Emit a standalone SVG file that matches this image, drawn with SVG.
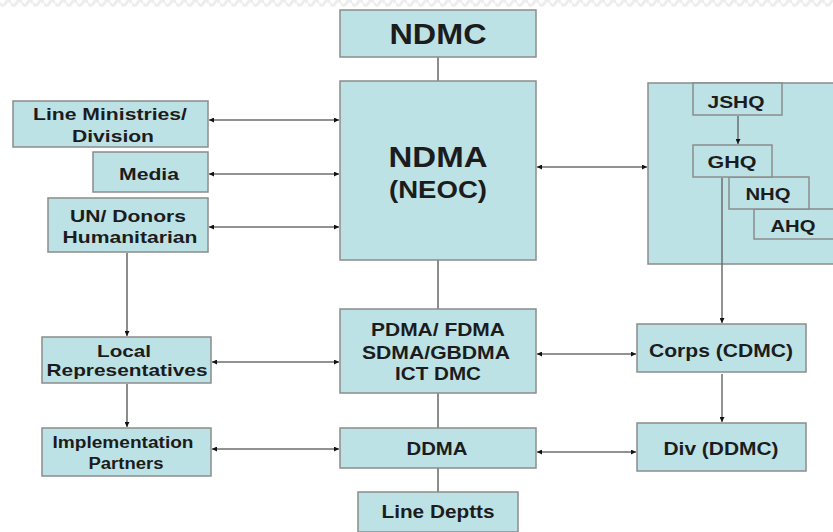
<svg xmlns="http://www.w3.org/2000/svg" width="833" height="532" viewBox="0 0 833 532">
<style>
.box{fill:#bde2e5;stroke:#8c8c8c;stroke-width:1.5}
.t{font-family:"Liberation Sans",Arial,sans-serif;font-weight:bold;fill:#1c1c1c;text-anchor:middle}
.c{stroke:#6e6e6e;stroke-width:1.5;fill:none}
.cv{stroke:#8c8c8c;stroke-width:2;fill:none}
</style>
<defs>
<marker id="ah" viewBox="0 0 10 10" refX="10" refY="5" markerWidth="5" markerHeight="5" orient="auto-start-reverse" markerUnits="userSpaceOnUse">
<path d="M0,0 L10,5 L0,10 z" fill="#111"/>
</marker>
<pattern id="wave" width="11" height="9" patternUnits="userSpaceOnUse">
<path d="M0,3 Q2.75,8 5.5,3 T11,3" stroke="#ededed" stroke-width="3" fill="none"/>
</pattern>
</defs>
<rect x="0" y="0" width="833" height="532" fill="#fff"/>
<rect x="0" y="0" width="833" height="9" fill="url(#wave)"/>

<g id="military"><rect class="box" x="648" y="83" width="195" height="181"/></g>
<g id="jshq"><rect class="box" x="693" y="83" width="89" height="32"/>
<text class="t" x="736" y="108" font-size="16" textLength="57" lengthAdjust="spacingAndGlyphs">JSHQ</text></g>
<g id="ahq"><rect class="box" x="754" y="209" width="82" height="30"/>
<text class="t" x="793" y="232" font-size="16" textLength="45" lengthAdjust="spacingAndGlyphs">AHQ</text></g>
<g id="nhq"><rect class="box" x="729" y="177" width="80" height="32"/>
<text class="t" x="768" y="200" font-size="16" textLength="45" lengthAdjust="spacingAndGlyphs">NHQ</text></g>
<g id="ghq"><rect class="box" x="693" y="145" width="79" height="32"/>
<text class="t" x="732" y="168" font-size="16" textLength="49" lengthAdjust="spacingAndGlyphs">GHQ</text></g>

<g id="connectors">
<line class="cv" x1="438" y1="57" x2="438" y2="81"/>
<line class="cv" x1="438" y1="260" x2="438" y2="309"/>
<line class="cv" x1="438" y1="393" x2="438" y2="428"/>
<line class="cv" x1="438" y1="468" x2="438" y2="492"/>
<line class="c" x1="209" y1="120" x2="339" y2="120" marker-start="url(#ah)" marker-end="url(#ah)"/>
<line class="c" x1="209" y1="174" x2="339" y2="174" marker-start="url(#ah)" marker-end="url(#ah)"/>
<line class="c" x1="209" y1="227" x2="339" y2="227" marker-start="url(#ah)" marker-end="url(#ah)"/>
<line class="c" x1="212" y1="362" x2="339" y2="362" marker-start="url(#ah)" marker-end="url(#ah)"/>
<line class="c" x1="212" y1="449" x2="339" y2="449" marker-start="url(#ah)" marker-end="url(#ah)"/>
<line class="c" x1="537" y1="167" x2="647" y2="167" marker-start="url(#ah)" marker-end="url(#ah)"/>
<line class="c" x1="537" y1="354" x2="636" y2="354" marker-start="url(#ah)" marker-end="url(#ah)"/>
<line class="c" x1="537" y1="452" x2="636" y2="452" marker-start="url(#ah)" marker-end="url(#ah)"/>
<line class="cv" x1="127" y1="253" x2="127" y2="336" marker-end="url(#ah)"/>
<line class="cv" x1="127" y1="384" x2="127" y2="427" marker-end="url(#ah)"/>
<line class="c" x1="738" y1="116" x2="738" y2="144" marker-end="url(#ah)"/>
<line class="c" x1="722" y1="178" x2="722" y2="323" marker-end="url(#ah)"/>
<line class="c" x1="722" y1="374" x2="722" y2="422" marker-end="url(#ah)"/>
</g>

<g id="ndmc"><rect class="box" x="340" y="10" width="196" height="47"/>
<text class="t" x="438" y="44" font-size="29" textLength="97" lengthAdjust="spacingAndGlyphs">NDMC</text></g>

<g id="ndma"><rect class="box" x="340" y="81" width="196" height="179"/>
<text class="t" x="438" y="167" font-size="30" textLength="99" lengthAdjust="spacingAndGlyphs">NDMA</text>
<text class="t" x="438" y="198" font-size="23" textLength="98" lengthAdjust="spacingAndGlyphs">(NEOC)</text></g>

<g id="line-ministries"><rect class="box" x="13" y="101" width="195" height="46"/>
<text class="t" x="110" y="120" font-size="17" textLength="154" lengthAdjust="spacingAndGlyphs">Line Ministries/</text>
<text class="t" x="113" y="142" font-size="17" textLength="82" lengthAdjust="spacingAndGlyphs">Division</text></g>

<g id="media"><rect class="box" x="93" y="152" width="115" height="40"/>
<text class="t" x="149" y="180" font-size="17" textLength="60" lengthAdjust="spacingAndGlyphs">Media</text></g>

<g id="un-donors"><rect class="box" x="48" y="198" width="160" height="54"/>
<text class="t" x="128" y="222" font-size="17" textLength="116" lengthAdjust="spacingAndGlyphs">UN/ Donors</text>
<text class="t" x="130" y="243" font-size="17" textLength="135" lengthAdjust="spacingAndGlyphs">Humanitarian</text></g>

<g id="local-representatives"><rect class="box" x="42" y="337" width="169" height="46"/>
<text class="t" x="124" y="357" font-size="17" textLength="54" lengthAdjust="spacingAndGlyphs">Local</text>
<text class="t" x="127" y="376" font-size="17" textLength="161" lengthAdjust="spacingAndGlyphs">Representatives</text></g>

<g id="implementation-partners"><rect class="box" x="42" y="428" width="169" height="48"/>
<text class="t" x="123" y="448" font-size="16" textLength="141" lengthAdjust="spacingAndGlyphs">Implementation</text>
<text class="t" x="126" y="469" font-size="16" textLength="75" lengthAdjust="spacingAndGlyphs">Partners</text></g>

<g id="pdma"><rect class="box" x="340" y="309" width="196" height="84"/>
<text class="t" x="438" y="336" font-size="18" textLength="134" lengthAdjust="spacingAndGlyphs">PDMA/ FDMA</text>
<text class="t" x="436" y="359" font-size="18" textLength="148" lengthAdjust="spacingAndGlyphs">SDMA/GBDMA</text>
<text class="t" x="438" y="380" font-size="18" textLength="86" lengthAdjust="spacingAndGlyphs">ICT DMC</text></g>

<g id="ddma"><rect class="box" x="340" y="428" width="196" height="40"/>
<text class="t" x="437" y="455" font-size="18" textLength="61" lengthAdjust="spacingAndGlyphs">DDMA</text></g>

<g id="line-deptts"><rect class="box" x="358" y="492" width="160" height="40"/>
<text class="t" x="438" y="518" font-size="18" textLength="113" lengthAdjust="spacingAndGlyphs">Line Deptts</text></g>

<g id="corps"><rect class="box" x="637" y="324" width="169" height="48"/>
<text class="t" x="721" y="357" font-size="19" textLength="144" lengthAdjust="spacingAndGlyphs">Corps (CDMC)</text></g>

<g id="div"><rect class="box" x="637" y="423" width="169" height="48"/>
<text class="t" x="721" y="455" font-size="19" textLength="115" lengthAdjust="spacingAndGlyphs">Div (DDMC)</text></g>
</svg>
